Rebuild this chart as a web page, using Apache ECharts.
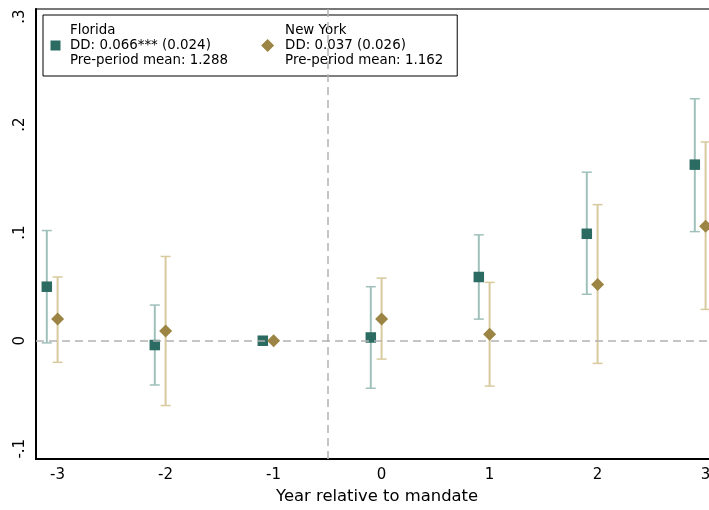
<!DOCTYPE html>
<html>
<head>
<meta charset="utf-8">
<script src="https://cdn.jsdelivr.net/npm/echarts@6/dist/echarts.min.js"></script>
<style>
html,body{margin:0;padding:0;background:#fff;}
#chart{width:709px;height:510px;}
</style>
</head>
<body>
<div id="chart"></div>
<script>
// ---- data ----
const years = [-3, -2, -1, 0, 1, 2, 3];
const flEst = [0.050, -0.004, 0.000, 0.003, 0.059, 0.099, 0.163];
const flLo  = [-0.002, -0.041, null, -0.044, 0.020, 0.043, 0.101];
const flHi  = [0.102, 0.033, null, 0.050, 0.098, 0.156, 0.224];
const nyEst = [0.020, 0.009, 0.000, 0.020, 0.006, 0.052, 0.106];
const nyLo  = [-0.020, -0.060, null, -0.017, -0.042, -0.021, 0.029];
const nyHi  = [0.059, 0.078, null, 0.058, 0.054, 0.126, 0.184];
const flLegend = ['Florida', 'DD: 0.066*** (0.024)', 'Pre-period mean: 1.288'];
const nyLegend = ['New York', 'DD: 0.037 (0.026)', 'Pre-period mean: 1.162'];
const xTickValues = [-3, -2, -1, 0, 1, 2, 3];
const xTickLabels = ['-3', '-2', '-1', '0', '1', '2', '3'];
const yTickValues = [-0.1, 0, 0.1, 0.2, 0.3];
const yTickLabels = ['-.1', '0', '.1', '.2', '.3'];
const xTitle = 'Year relative to mandate';

// ---- layout / style ----
const flOffset = -0.1, nyOffset = 0;
const FONT = 'DejaVu Sans';
const flColor = '#2b6b62', flCI = '#9fc0bb';
const nyColor = '#9b8444', nyCI = '#d8ca9e';

function pts(est, off) { return years.map((y, i) => [y + off, est[i]]); }
function ci(lo, hi, off) {
  const out = [];
  years.forEach((y, i) => { if (lo[i] != null && hi[i] != null) out.push([y + off, lo[i], hi[i]]); });
  return out;
}
function errRender(color) {
  return function (params, api) {
    const x = api.value(0), lo = api.value(1), hi = api.value(2);
    const a = api.coord([x, lo]), b = api.coord([x, hi]);
    const hw = 5;
    const st = { stroke: color, lineWidth: 2 };
    return { type: 'group', children: [
      { type: 'line', shape: { x1: a[0], y1: a[1], x2: b[0], y2: b[1] }, style: st },
      { type: 'line', shape: { x1: a[0] - hw, y1: a[1], x2: a[0] + hw, y2: a[1] }, style: { stroke: color, lineWidth: 1.5 } },
      { type: 'line', shape: { x1: b[0] - hw, y1: b[1], x2: b[0] + hw, y2: b[1] }, style: { stroke: color, lineWidth: 1.5 } }
    ]};
  };
}

const chart = echarts.init(document.getElementById('chart'));
chart.setOption({
  animation: false,
  backgroundColor: '#fff',
  grid: { left: 36, top: 9, width: 691.2, height: 450, outerBoundsMode: 'none', containLabel: false,
          show: true, borderColor: '#777', borderWidth: 2, backgroundColor: 'transparent' },
  legend: {
    left: 43, top: 15, orient: 'horizontal',
    backgroundColor: '#fff', borderColor: '#000', borderWidth: 1,
    padding: [8, 14, 8, 6], itemGap: 33, itemWidth: 13, itemHeight: 13,
    textStyle: { fontFamily: FONT, fontSize: 13.4, lineHeight: 15, color: '#000' },
    data: [
      { name: 'Florida', icon: 'path://M0,0L0,0M13,13L13,13M1.5,1.5L11.5,1.5L11.5,11.5L1.5,11.5Z', textStyle: { padding: [0, 0, 0, 3] } },
      { name: 'New York', icon: 'diamond', textStyle: { padding: [0, 0, 0, 6] } }
    ],
    formatter: function (name) { return (name === 'Florida' ? flLegend : nyLegend).join('\n'); }
  },
  xAxis: {
    type: 'value', min: -3.2, max: 3.2,
    splitLine: { show: false },
    axisTick: { show: false },
    axisLine: { onZero: false, lineStyle: { color: '#000', width: 2 } },
    axisLabel: {
      customValues: xTickValues, margin: 9,
      formatter: v => xTickLabels[xTickValues.indexOf(Math.round(v))],
      fontFamily: FONT, fontSize: 15, color: '#000'
    },
    name: xTitle, nameLocation: 'middle', nameGap: 30,
    nameTextStyle: { fontFamily: FONT, fontSize: 16.4, color: '#000', padding: [0, 9, 0, 0] }
  },
  yAxis: {
    type: 'value', min: -0.1095, max: 0.3071,
    splitLine: { show: false },
    axisTick: { show: false },
    axisLine: { onZero: false, lineStyle: { color: '#000', width: 2 } },
    axisLabel: {
      customValues: yTickValues, rotate: 90, margin: 8,
      formatter: v => { const i = yTickValues.findIndex(t => Math.abs(t - v) < 1e-9); return i >= 0 ? yTickLabels[i] : ''; },
      fontFamily: FONT, fontSize: 15, color: '#000'
    }
  },
  series: [
    {
      name: 'Florida CI', type: 'custom', renderItem: errRender(flCI), data: ci(flLo, flHi, flOffset), z: 2,
      encode: { x: 0, y: [1, 2] },
      markLine: {
        silent: true, symbol: ['none', 'none'], label: { show: false },
        lineStyle: { color: '#b3b3b3', type: [8, 5], width: 1.5 },
        data: [{ yAxis: 0 }, { xAxis: -0.5 }]
      }
    },
    { name: 'New York CI', type: 'custom', renderItem: errRender(nyCI), data: ci(nyLo, nyHi, nyOffset), z: 2, encode: { x: 0, y: [1, 2] } },
    { name: 'Florida', type: 'scatter', symbol: 'rect', symbolSize: 10.5, itemStyle: { color: flColor, opacity: 1 }, data: pts(flEst, flOffset), z: 4 },
    { name: 'New York', type: 'scatter', symbol: 'diamond', symbolSize: 13, itemStyle: { color: nyColor, opacity: 1 }, data: pts(nyEst, nyOffset), z: 5 }
  ]
});
</script>
</body>
</html>
